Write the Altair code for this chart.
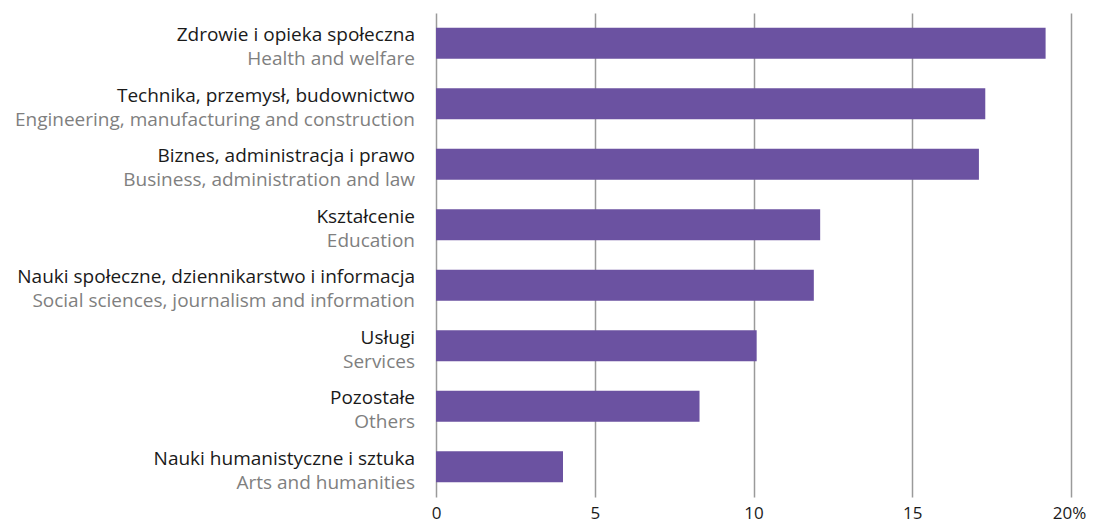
import altair as alt
import pandas as pd

pl_labels = [
    "Zdrowie i opieka społeczna",
    "Technika, przemysł, budownictwo",
    "Biznes, administracja i prawo",
    "Kształcenie",
    "Nauki społeczne, dziennikarstwo i informacja",
    "Usługi",
    "Pozostałe",
    "Nauki humanistyczne i sztuka",
]
en_labels = [
    "Health and welfare",
    "Engineering, manufacturing and construction",
    "Business, administration and law",
    "Education",
    "Social sciences, journalism and information",
    "Services",
    "Others",
    "Arts and humanities",
]
values = [19.2, 17.3, 17.1, 12.1, 11.9, 10.1, 8.3, 4.0]
x_ticks = [0, 5, 10, 15, 20]

df = pd.DataFrame({"pl": pl_labels, "en": en_labels, "value": values})

FONT = "Open Sans"
y_enc = alt.Y("pl:N", sort=pl_labels, axis=None,
              scale=alt.Scale(paddingInner=0.49, paddingOuter=0.245))

bars = alt.Chart(df).mark_bar(color="#6B52A1").encode(
    x=alt.X("value:Q",
            scale=alt.Scale(domain=[0, 20], nice=False),
            axis=alt.Axis(values=x_ticks, title=None, grid=True, gridColor="#9a9a9a",
                          gridWidth=1.5, domain=False, ticks=False,
                          labelFont=FONT, labelFontSize=17, labelColor="#1a1a1a",
                          labelPadding=8, labelFlush=False, labelBound=False,
                          labelOffset={"condition": {"test": "datum.value == 20", "value": -2},
                                       "value": 0},
                          labelExpr="datum.value == 20 ? '20%' : datum.label")),
    y=y_enc,
)

pl_text = alt.Chart(df).mark_text(align="right", baseline="middle", dy=-8, font=FONT,
                                  fontSize=19, color="#1a1a1a").encode(
    x=alt.value(-21), y=y_enc, text="pl:N")
en_text = alt.Chart(df).mark_text(align="right", baseline="middle", dy=16, font=FONT,
                                  fontSize=19, color="#7f7f7f").encode(
    x=alt.value(-21), y=y_enc, text="en:N")

chart = alt.layer(bars, pl_text, en_text).properties(
    width=635, height=484,
    autosize=alt.AutoSizeParams(type="none"),
    padding={"left": 428, "top": 5, "right": 16, "bottom": 30},
).configure_view(stroke=None)

chart.save("out.html", embed_options={"renderer": "svg", "actions": False})
